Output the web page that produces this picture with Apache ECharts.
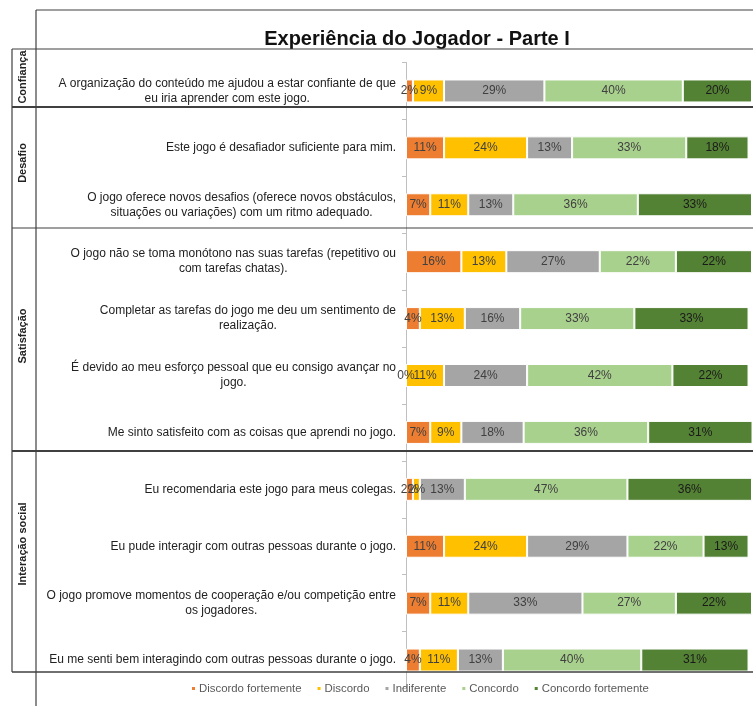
<!DOCTYPE html>
<html>
<head>
<meta charset="utf-8">
<script src="https://cdn.jsdelivr.net/npm/echarts@6/dist/echarts.min.js"></script>
<style>
html,body{margin:0;padding:0;background:#fff;}
#chart{width:753px;height:706px;}
</style>
</head>
<body>
<div id="chart"></div>
<script>
const titleText = 'Experiência do Jogador - Parte I';
const categories = [
  'A organização do conteúdo me ajudou a estar confiante de que\neu iria aprender com este jogo.',
  'Este jogo é desafiador suficiente para mim.',
  'O jogo oferece novos desafios (oferece novos obstáculos,\nsituações ou variações) com um ritmo adequado.',
  'O jogo não se toma monótono nas suas tarefas (repetitivo ou\ncom tarefas chatas).',
  'Completar as tarefas do jogo me deu um sentimento de\nrealização.',
  'É devido ao meu esforço pessoal que eu consigo avançar no\njogo.',
  'Me sinto satisfeito com as coisas que aprendi no jogo.',
  'Eu recomendaria este jogo para meus colegas.',
  'Eu pude interagir com outras pessoas durante o jogo.',
  'O jogo promove momentos de cooperação e/ou competição entre\nos jogadores.',
  'Eu me senti bem interagindo com outras pessoas durante o jogo.'
];
const seriesNames = ['Discordo fortemente', 'Discordo', 'Indiferente', 'Concordo', 'Concordo fortemente'];
const discordoFortemente = [2, 11, 7, 16, 4, 0, 7, 2, 11, 7, 4];
const discordo           = [9, 24, 11, 13, 13, 11, 9, 2, 24, 11, 11];
const indiferente        = [29, 13, 13, 27, 16, 24, 18, 13, 29, 33, 13];
const concordo           = [40, 33, 36, 22, 33, 42, 36, 47, 22, 27, 40];
const concordoFortemente = [20, 18, 33, 22, 33, 22, 31, 36, 13, 22, 31];
const groupNames = ['Confiança', 'Desafio', 'Satisfação', 'Interação social'];

const colors = ['#ED7D31', '#FFC000', '#A5A5A5', '#A9D18E', '#548235'];
const values = [discordoFortemente, discordo, indiferente, concordo, concordoFortemente];
const FONT = "'Liberation Sans', Arial, sans-serif";

const chart = echarts.init(document.getElementById('chart'), null, {renderer: 'canvas'});

const series = seriesNames.map((n, i) => ({
  name: n,
  type: 'bar',
  stack: 'total',
  data: values[i],
  barWidth: 23,
  itemStyle: {color: colors[i], borderColor: '#fff', borderWidth: 1},
  label: {
    show: true, position: 'inside', formatter: '{c}%',
    color: i === 4 ? '#1a1a1a' : '#404040', fontSize: 12, fontFamily: FONT
  },
  emphasis: {disabled: true}
}));

// decorative frame lines (table borders)
const L = (x1, y1, x2, y2, w, c) => ({
  type: 'line', shape: {x1, y1, x2, y2},
  style: {stroke: c || '#404040', lineWidth: w || 1}, z: 10
});
const groupLabel = (txt, x, y) => ({
  type: 'text', x, y, rotation: Math.PI / 2,
  style: {text: txt, fontFamily: FONT, fontSize: 11, fontWeight: 'bold', fill: '#222',
    align: 'center', verticalAlign: 'middle'}, z: 10
});

chart.setOption({
  animation: false,
  color: colors,
  title: {
    text: titleText, left: 412, top: 24, textAlign: 'center',
    textStyle: {fontFamily: FONT, fontSize: 20, fontWeight: 'bold', color: '#111'}
  },
  legend: {
    bottom: 7, left: 185, itemWidth: 5, itemHeight: 5, itemGap: 14,
    icon: 'rect',
    textStyle: {fontFamily: FONT, fontSize: 11.4, color: '#595959', padding: [0, 0, 0, -2]}
  },
  grid: {left: 406, right: 1, top: 62.5, height: 626, containLabel: false},
  xAxis: {type: 'value', min: 0, max: 100, show: false},
  yAxis: {
    type: 'category', inverse: true, data: categories,
    axisLine: {show: true, lineStyle: {color: '#BFBFBF'}},
    axisTick: {show: true, length: 4, lineStyle: {color: '#BFBFBF'}},
    axisLabel: {
      margin: 10, align: 'right',
      formatter: v => v.split('\n').map(s => '{c|' + s + '}').join('\n'),
      rich: {c: {align: 'center', fontFamily: FONT, fontSize: 12, color: '#222', lineHeight: 15}}
    }
  },
  series,
  graphic: [
    L(36, 10, 753, 10, 1.2),
    L(36, 10, 36, 706, 1.2),
    L(12, 49, 753, 49, 1.2),
    L(12, 49, 12, 672, 1.2),
    L(12, 107, 753, 107, 2),
    L(12, 228, 753, 228, 1.2),
    L(12, 451, 753, 451, 2),
    L(12, 672, 753, 672, 1.5),
    groupLabel(groupNames[0], 23, 77),
    groupLabel(groupNames[1], 23, 163),
    groupLabel(groupNames[2], 23, 336),
    groupLabel(groupNames[3], 23, 544)
  ]
});
</script>
</body>
</html>
